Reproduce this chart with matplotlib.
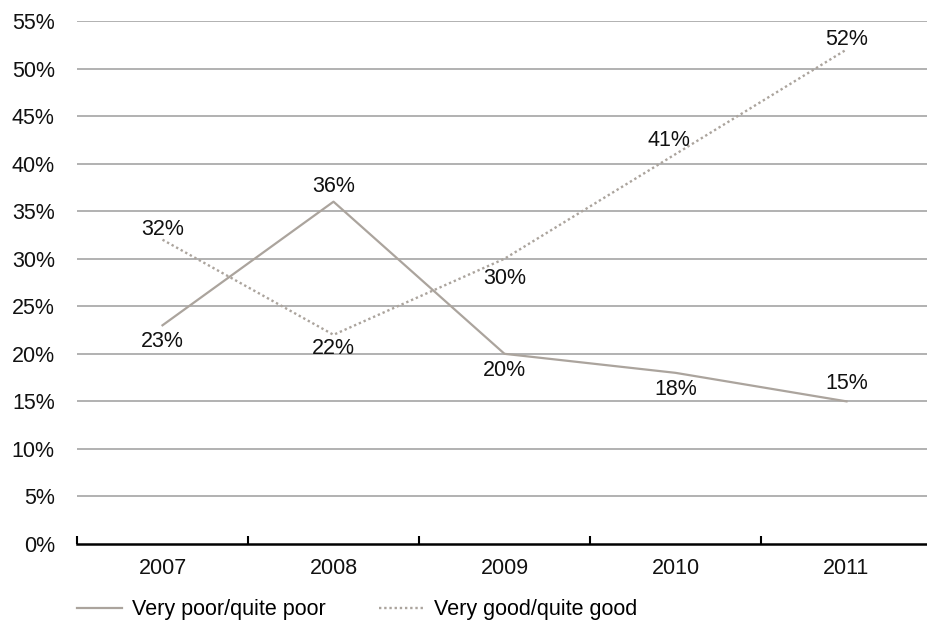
import matplotlib
matplotlib.use("Agg")
import matplotlib.pyplot as plt
from matplotlib.ticker import FixedLocator, FuncFormatter

plt.rcParams['font.family'] = ['Liberation Sans', 'DejaVu Sans']

# Survey results by year
years = ['2007', '2008', '2009', '2010', '2011']
poor = [23, 36, 20, 18, 15]
good = [32, 22, 30, 41, 52]

# label offsets (points) for each value label
poor_offsets = [(0, -12), (0, 11), (0, -12), (0, -12), (0, 13)]
good_offsets = [(0, 7), (0, -10), (0, -14), (-5, 10), (0, 7)]

line_color = '#aba49d'
grid_color = '#a4a4a4'
fs = 15.5

fig = plt.figure(figsize=(9.28, 6.22), dpi=100)
ax = fig.add_axes([77 / 928, 1 - 544 / 622, 855 / 928, 523 / 622])

x = list(range(len(years)))
ax.plot(x, poor, color=line_color, linewidth=1.6, label='Very poor/quite poor', zorder=3)
ax.plot(x, good, color=line_color, linewidth=1.7, linestyle=(0, (1, 1.2)),
        label='Very good/quite good', zorder=3)

for xi, v, off in zip(x, poor, poor_offsets):
    ax.annotate(f'{v}%', (xi, v), xytext=off, textcoords='offset points',
                ha='center', va='center', fontsize=fs, color='#111111')
for xi, v, off in zip(x, good, good_offsets):
    ax.annotate(f'{v}%', (xi, v), xytext=off, textcoords='offset points',
                ha='center', va='center', fontsize=fs, color='#111111')

ax.set_xlim(-0.5, len(years) - 0.5)
ax.set_ylim(0, 55)

# horizontal gridlines
for yv in range(5, 60, 5):
    ax.axhline(yv, color=grid_color, linewidth=1.2, zorder=1)

ax.yaxis.set_major_locator(FixedLocator(list(range(0, 60, 5))))
ax.yaxis.set_major_formatter(FuncFormatter(lambda v, p: f'{v:.0f}%'))
ax.tick_params(axis='y', length=0, pad=16, labelsize=fs, labelcolor='#111111')

ax.set_xticks(x)
ax.set_xticklabels(years)
ax.set_xticks([i - 0.5 for i in range(len(years) + 1)], minor=True)
ax.tick_params(axis='x', which='major', length=0, pad=10, labelsize=fs, labelcolor='#111111')
ax.tick_params(axis='x', which='minor', direction='in', length=5.5, width=1.5, color='black')

for side in ['top', 'right', 'left']:
    ax.spines[side].set_visible(False)
ax.spines['bottom'].set_linewidth(1.8)
ax.spines['bottom'].set_color('black')

fig.legend(loc='center left', bbox_to_anchor=(77 / 928, 1 - 610 / 622), ncol=2,
           frameon=False, fontsize=fs, handlelength=2.1, handletextpad=0.45,
           columnspacing=2.5, borderaxespad=0, borderpad=0)

fig.savefig('out.png', dpi=100)
